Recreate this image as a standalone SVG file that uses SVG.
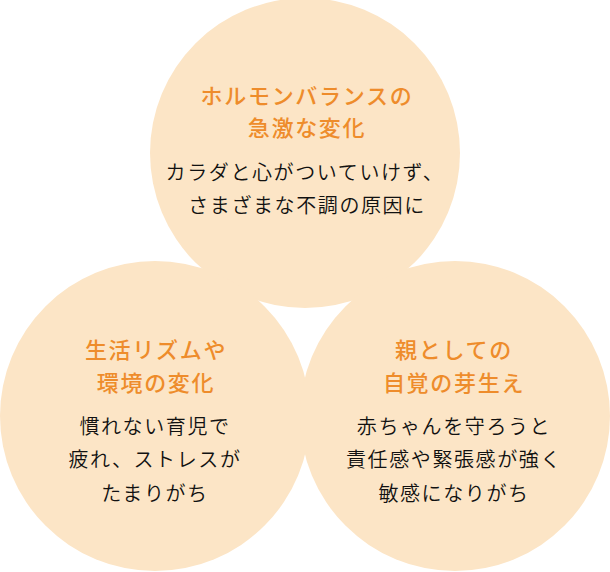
<svg xmlns="http://www.w3.org/2000/svg" width="610" height="572" viewBox="0 0 610 572">
<style>
.c{fill:#FCE5C6}
.t{font-family:"Noto Sans CJK JP","Noto Sans",sans-serif;font-size:22px;font-weight:500;fill:#EE8C2B;text-anchor:middle;letter-spacing:1.7px}
.b{font-family:"Noto Sans CJK JP","Noto Sans",sans-serif;font-size:20px;font-weight:350;fill:#111111;text-anchor:middle;letter-spacing:1.6px}
</style>
<rect width="610" height="572" fill="#ffffff"/>
<g id="node-top">
<circle class="c" cx="305" cy="153" r="155"/>
<text class="t" x="307" y="104">ホルモンバランスの</text>
<text class="t" x="307" y="136">急激な変化</text>
<text class="b" x="305" y="180">カラダと心がついていけず、</text>
<text class="b" x="307" y="213">さまざまな不調の原因に</text>
</g>
<g id="node-left">
<circle class="c" cx="155" cy="416" r="155"/>
<text class="t" x="156" y="358">生活リズムや</text>
<text class="t" x="156" y="391">環境の変化</text>
<text class="b" x="155" y="434">慣れない育児で</text>
<text class="b" x="155" y="467">疲れ、ストレスが</text>
<text class="b" x="155" y="501">たまりがち</text>
</g>
<g id="node-right">
<circle class="c" cx="455" cy="416" r="155"/>
<text class="t" x="454" y="358">親としての</text>
<text class="t" x="454" y="391">自覚の芽生え</text>
<text class="b" x="454" y="434">赤ちゃんを守ろうと</text>
<text class="b" x="454" y="467">責任感や緊張感が強く</text>
<text class="b" x="454" y="501">敏感になりがち</text>
</g>
<g id="connectors"></g>
</svg>
